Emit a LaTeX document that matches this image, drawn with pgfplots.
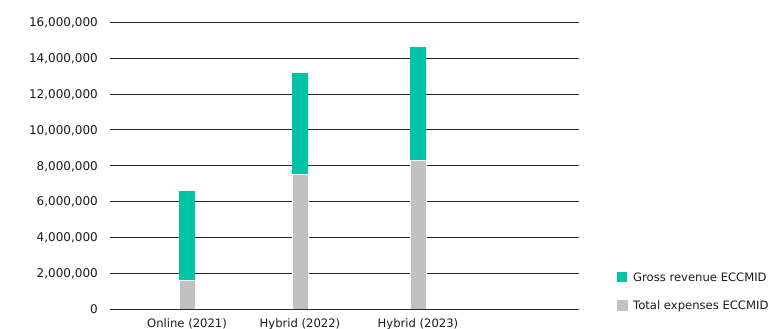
\documentclass[border=0pt]{standalone}
\usepackage{pgfplots}
\pgfplotsset{compat=1.18}
\usepackage{fontspec}
\setmainfont{DejaVu Sans}
\definecolor{revgreen}{HTML}{00C4A8}
\definecolor{expgray}{HTML}{C1C1BF}
\definecolor{txt}{HTML}{1A1A1A}
\begin{document}
\begin{tikzpicture}[x=1pt,y=1pt]
\begin{axis}[
  at={(110pt,20pt)}, anchor=south west,
  scale only axis, width=469pt, height=286.7pt,
  xmin=110, xmax=579, ymin=0, ymax=16000000,
  axis line style={draw=none},
  major tick length=0pt,
  ymajorgrids, grid style={black!85, line width=0.8pt},
  xtick={187,300,418},
  xticklabels={Online (2021), Hybrid (2022), Hybrid (2023)},
  ytick={0,2000000,4000000,6000000,8000000,10000000,12000000,14000000,16000000},
  yticklabels={0, {2,000,000}, {4,000,000}, {6,000,000}, {8,000,000}, {10,000,000}, {12,000,000}, {14,000,000}, {16,000,000}},
  scaled y ticks=false,
  every tick label/.append style={font=\fontsize{11.6pt}{13pt}\selectfont, text=txt},
  yticklabel style={anchor=east, inner sep=0pt, xshift=-12pt, text depth=0pt, font=\fontsize{12pt}{14pt}\selectfont},
  xticklabel style={anchor=north, inner sep=0pt, yshift=-10pt, text height=8.4pt},
  legend style={at={(1.0804,0.128)}, anchor=north west, draw=none, fill=none,
    inner sep=0pt, outer sep=0pt, row sep=18pt, column sep=6pt,
    font=\fontsize{11.6pt}{13pt}\selectfont, text=txt,
    nodes={inner sep=0pt, text depth=0pt, text height=9.2pt, anchor=base west}},
  legend cell align=left,
]
\addplot[ybar, bar shift=0pt, bar width=16pt, fill=revgreen, draw=none,
  legend image code/.code={\fill[revgreen] (0pt,-0.8pt) rectangle (10pt,9.2pt);}]
  coordinates {(187,6580000) (300,13170000) (418,14620000)};
\addlegendentry{Gross revenue ECCMID}
\addplot[ybar, bar shift=0pt, bar width=16pt, fill=expgray, draw=white, line width=0.5pt,
  legend image code/.code={\fill[expgray] (0pt,-0.8pt) rectangle (10pt,9.2pt);}]
  coordinates {(187,1600000) (300,7520000) (418,8310000)};
\addlegendentry{Total expenses ECCMID}
\end{axis}
\pgfresetboundingbox
\path (0,0) rectangle (774pt,329pt);
\end{tikzpicture}
\end{document}
